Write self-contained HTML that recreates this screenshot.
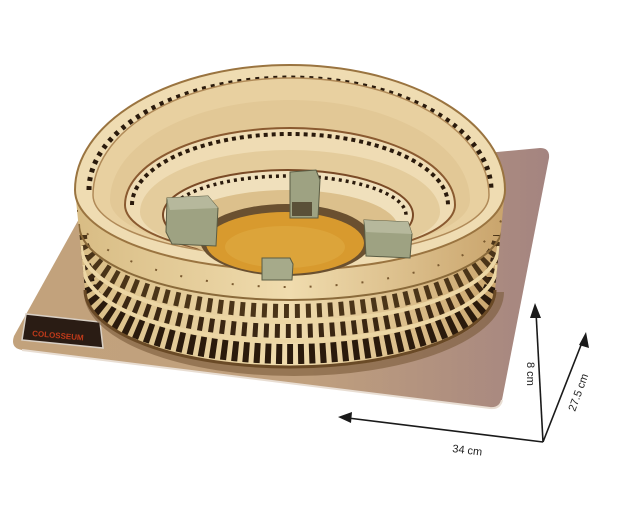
<!DOCTYPE html>
<html><head><meta charset="utf-8"><style>
html,body{margin:0;padding:0;background:#fff;width:643px;height:519px;overflow:hidden}
svg{display:block}
text{font-family:"Liberation Sans",sans-serif}
</style></head><body>
<svg width="643" height="519" viewBox="0 0 643 519" xmlns="http://www.w3.org/2000/svg">
<defs>
<linearGradient id="base" x1="0" y1="0" x2="1" y2="0">
<stop offset="0" stop-color="#c2a27c"/><stop offset="0.55" stop-color="#c0a07e"/><stop offset="1" stop-color="#a48480"/>
</linearGradient>
<linearGradient id="wall" x1="0" y1="0" x2="1" y2="0">
<stop offset="0" stop-color="#d8bc84"/><stop offset="0.5" stop-color="#f0dcae"/><stop offset="1" stop-color="#c9a46c"/>
</linearGradient>
<clipPath id="wallclip">
<path d="M75,190 A215,80 0 0 0 505,190 L495,290 A205,77 0 0 1 85,290 Z"/>
</clipPath>
</defs>
<!-- base -->
<path d="M95,190 L540,148 Q550,148 549,158 L502,400 Q500,409 490,408 L22,350 Q10,348 14,336 Z" fill="url(#base)"/>
<path d="M22,350 L490,408 Q500,409 502,400" fill="none" stroke="#e8ddd2" stroke-width="2"/>
<!-- nameplate -->
<polygon points="26,314 100,322 103,348 22,340" fill="#2a1c14" stroke="#d8cfc4" stroke-width="1.5"/>
<text x="32" y="336" font-size="8" fill="#c03a1a" font-weight="bold" transform="rotate(5 32 336)">COLOSSEUM</text>
<!-- shadow -->
<path d="M88,292 A206,80 0 0 0 500,292" fill="none" stroke="#7a5a38" stroke-width="8" opacity="0.6"/>
<!-- walls -->
<path d="M75,190 A215,80 0 0 0 505,190 L495,290 A205,77 0 0 1 85,290 Z" fill="url(#wall)"/>
<g clip-path="url(#wallclip)" fill="none">
<path d="M84,277 A206,77 0 0 0 496,277" stroke="#2a1a0c" stroke-width="20" stroke-dasharray="6 5"/>
<path d="M82,255 A208,76 0 0 0 498,255" stroke="#3a2612" stroke-width="14" stroke-dasharray="5 6"/>
<path d="M80,235 A210,76 0 0 0 500,235" stroke="#4a3418" stroke-width="14" stroke-dasharray="5 6"/>
<path d="M83,265 A207,76 0 0 0 497,265" stroke="#ecd6a4" stroke-width="4"/>
<path d="M81,246 A209,76 0 0 0 499,246" stroke="#ecd6a4" stroke-width="4"/>
<path d="M79,224 A212,76 0 0 0 503,224" stroke="#8a6a3a" stroke-width="2"/>
<path d="M77,210 A213,77 0 0 0 503,210" stroke="#7a5a30" stroke-width="2" stroke-dasharray="2 24"/>
</g>
<path d="M85,290 A205,77 0 0 0 495,290" fill="none" stroke="#6a4a26" stroke-width="3"/>
<!-- top rim -->
<path d="M75,190 A215,125 0 0 1 505,190 A215,80 0 0 1 75,190 Z" fill="#efdcb2" stroke="#9a7440" stroke-width="2"/>
<path d="M89,190 A201,112 0 0 1 491,190" fill="none" stroke="#2a1a0c" stroke-width="5" stroke-dasharray="4 5"/>
<path d="M93,195 A198,117 0 0 1 489,195 A198,62 0 0 1 93,195 Z" fill="#e8d0a0" stroke="#b08a58" stroke-width="1.5"/>
<path d="M110,200 A180,100 0 0 1 470,200 A180,55 0 0 1 110,200 Z" fill="#e2c896"/>
<path d="M125,205 A165,77 0 0 1 455,205 A165,52 0 0 1 125,205 Z" fill="#efdcb4" stroke="#8a5a30" stroke-width="2"/>
<path d="M132,205 A158,71 0 0 1 448,205" fill="none" stroke="#2a1a0c" stroke-width="4" stroke-dasharray="4 4"/>
<path d="M140,212 A150,62 0 0 1 440,212 A150,46 0 0 1 140,212 Z" fill="#e4cc9c"/>
<path d="M163,215 A125,45 0 0 1 413,215 A125,44 0 0 1 163,215 Z" fill="#f0e0bc" stroke="#7a4a26" stroke-width="2"/>
<path d="M170,215 A118,39 0 0 1 406,215" fill="none" stroke="#2a1a0c" stroke-width="3.5" stroke-dasharray="3 4"/>
<path d="M178,228 A110,38 0 0 1 398,228 A110,36 0 0 1 178,228 Z" fill="#dcc08c"/>
<ellipse cx="286" cy="240" rx="86" ry="36" fill="#6a5030"/>
<ellipse cx="285" cy="243" rx="79" ry="31" fill="#d89a2e"/>
<ellipse cx="285" cy="247" rx="60" ry="21" fill="#dca43a"/>
<!-- green blocks -->
<polygon points="167,198 208,196 218,208 216,246 172,244 166,232" fill="#9ea282" stroke="#5a5c44" stroke-width="1"/>
<polygon points="167,198 208,196 218,208 170,210" fill="#b6b89c"/>
<polygon points="290,172 316,170 320,180 318,218 290,218" fill="#9ea282" stroke="#5a5c44" stroke-width="1"/>
<rect x="292" y="202" width="20" height="14" fill="#5a5038"/>
<polygon points="364,220 408,222 412,234 410,258 366,256" fill="#9ea282" stroke="#5a5c44" stroke-width="1"/>
<polygon points="364,220 408,222 412,234 366,232" fill="#b6b89c"/>
<polygon points="262,258 290,258 293,264 292,280 262,280" fill="#a6aa8a" stroke="#5a5c44" stroke-width="1"/>
<!-- dimension arrows -->
<g stroke="#1a1a1a" stroke-width="1.6" fill="none">
<line x1="543" y1="442" x2="348" y2="418"/>
<line x1="543" y1="442" x2="536" y2="312"/>
<line x1="543" y1="442" x2="583" y2="340"/>
</g>
<g fill="#1a1a1a">
<polygon points="338,417 352,412 351,423"/>
<polygon points="535,303 530,318 541,318"/>
<polygon points="586,332 579,345 589,348"/>
</g>
<text x="452" y="452" font-size="11" fill="#222" transform="rotate(7 452 452)">34 cm</text>
<text x="527" y="362" font-size="11" fill="#222" transform="rotate(90 527 362)">8 cm</text>
<text x="575" y="412" font-size="11" fill="#222" transform="rotate(-70 575 412)">27.5 cm</text>
</svg>
</body></html>
